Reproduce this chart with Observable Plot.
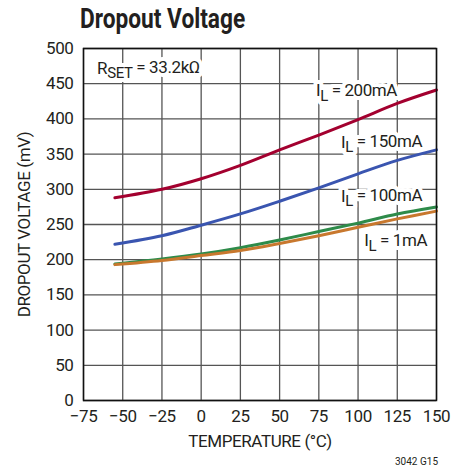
<!DOCTYPE html>
<html><head><meta charset="utf-8">
<script src="https://cdn.jsdelivr.net/npm/d3@7"></script>
<script src="https://cdn.jsdelivr.net/npm/@observablehq/plot@0.6"></script>
<style>
body{margin:0;background:#fff;font-family:Roboto,sans-serif;color:#231f20;}
#wrap{position:relative;width:469px;height:469px;overflow:hidden;background:#fff;}
#title{position:absolute;left:80px;top:3px;font-weight:bold;font-size:27px;transform:scaleX(0.84);transform-origin:left top;white-space:nowrap;z-index:2;}
#chart{position:absolute;left:0;top:28px;z-index:1;}
#code{position:absolute;left:395px;top:456px;font-size:10px;z-index:2;}
svg text{letter-spacing:-0.4px;}
</style></head><body>
<div id="wrap">
<div id="title">Dropout Voltage</div>
<div id="chart"></div>
<div id="code">3042 G15</div>
</div>
<script>
const temps = [-55, -25, 0, 25, 50, 75, 100, 125, 150];
const il200 = [288, 300, 315, 334, 356, 377, 399, 422, 441];
const il150 = [222, 234, 249, 265, 283, 302, 322, 341, 356];
const il100 = [194, 201, 208, 217, 228, 240, 252, 265, 275];
const il1 = [193, 199, 206, 213, 223, 234, 246, 258, 269];
const seriesNames = ["200mA", "150mA", "100mA", "1mA"];
const seriesColors = ["#a3002f", "#3a55b0", "#2e8b4a", "#c8782e"];
const labelX = [99, 115, 115, 124];
const labelY = [440, 367, 290, 227];
const xTicks = [-75, -50, -25, 0, 25, 50, 75, 100, 125, 150];
const yTicks = [0, 50, 100, 150, 200, 250, 300, 350, 400, 450, 500];
const rsetText = "33.2kΩ";

const allSeries = [il200, il150, il100, il1];
const rows = [];
allSeries.forEach((vals, i) => vals.forEach((v, j) => rows.push({t: temps[j], v, s: seriesNames[i]})));
const labels = seriesNames.map((n, i) => ({t: labelX[i], v: labelY[i], s: n}));
const rset = [{t: -33.6, v: 471.6}];

const font = 'Roboto,sans-serif';
const ilText = d => "I L = " + d.s;
const rText = d => "R SET = " + rsetText;
const plot = Plot.plot({
  width: 469, height: 441,
  marginLeft: 83, marginRight: 33, marginTop: 20, marginBottom: 69,
  style: {fontFamily: font, fontSize: "17px", color: "#231f20", background: "transparent"},
  x: {domain: [-75, 150], ticks: xTicks},
  y: {domain: [0, 500], ticks: yTicks},
  color: {domain: seriesNames, range: seriesColors},
  marks: [
    Plot.gridX(xTicks, {stroke: "#555", strokeOpacity: 1, strokeWidth: 1.3}),
    Plot.gridY(yTicks, {stroke: "#555", strokeOpacity: 1, strokeWidth: 1.3}),
    Plot.text(labels, {x: "t", y: "v", text: ilText, fontSize: 17, fill: "white", stroke: "white", strokeWidth: 8, className: "ilabel"}),
    Plot.text(rset, {x: "t", y: "v", text: rText, fontSize: 17, fill: "white", stroke: "white", strokeWidth: 8, className: "rlabel"}),
    Plot.text(labels, {x: "t", y: "v", text: ilText, fontSize: 17, fill: "#231f20", className: "ilabel"}),
    Plot.text(rset, {x: "t", y: "v", text: rText, fontSize: 17, fill: "#231f20", className: "rlabel"}),
    Plot.line(rows, {x: "t", y: "v", z: "s", stroke: "s", strokeWidth: 3, curve: "catmull-rom"}),
    Plot.frame({stroke: "#111", strokeWidth: 1.5}),
    Plot.axisX(xTicks, {tickSize: 0, tickPadding: 9, fontSize: 17, label: "TEMPERATURE (°C)", labelAnchor: "center", labelArrow: "none", labelOffset: 46}),
    Plot.axisY(yTicks, {tickSize: 0, tickPadding: 10, fontSize: 17, label: "DROPOUT VOLTAGE (mV)", labelAnchor: "center", labelArrow: "none", labelOffset: 66})
  ]
});
document.getElementById("chart").appendChild(plot);

function subscript(sel) {
  d3.select(plot).selectAll(sel + " text").each(function() {
    const parts = this.textContent.split(" ");
    const el = d3.select(this);
    el.text(null);
    el.append("tspan").text(parts[0]);
    el.append("tspan").attr("dy", "0.3em").attr("font-size", "15px").text(parts[1]);
    el.append("tspan").attr("dy", "-0.3em").text(" " + parts.slice(2).join(" "));
  });
}
subscript(".ilabel");
subscript(".rlabel");
</script>
</body></html>
